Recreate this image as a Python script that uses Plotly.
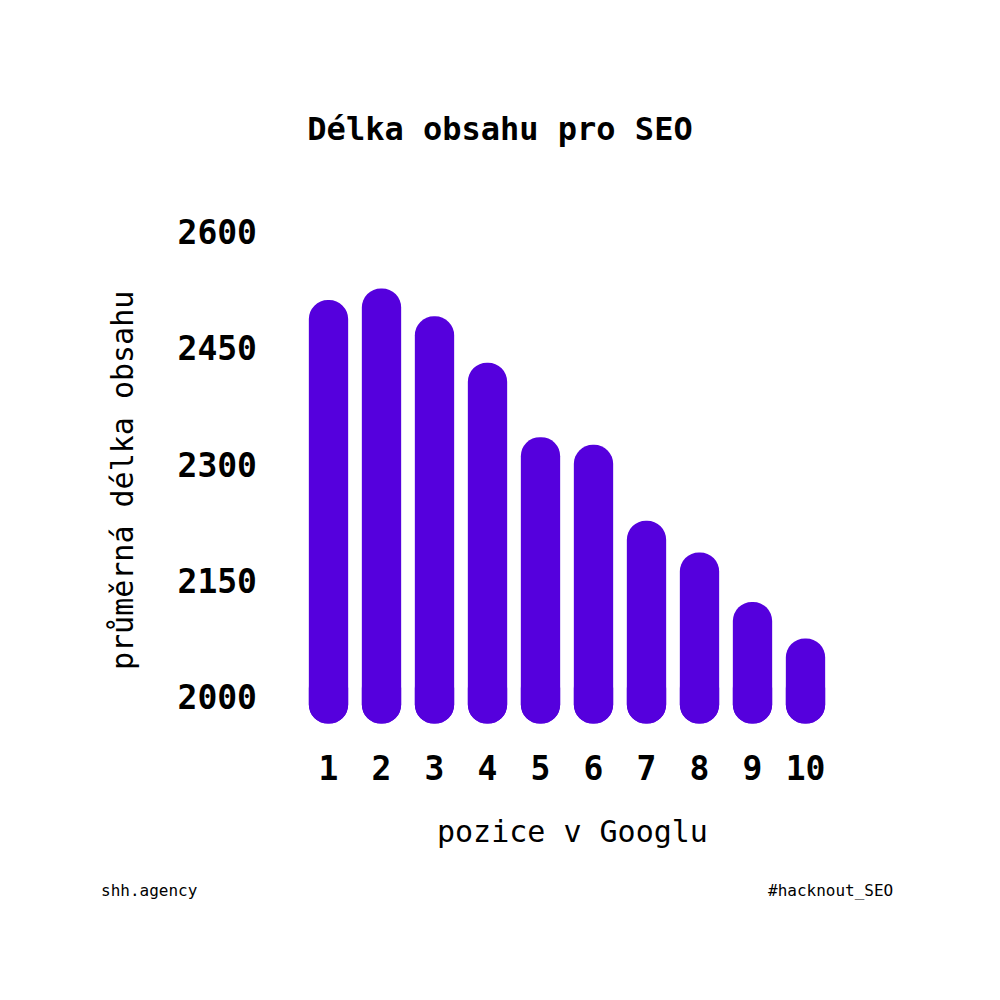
import plotly.graph_objects as go

# ---- data ----
positions = ["1", "2", "3", "4", "5", "6", "7", "8", "9", "10"]
avg_length = [2513, 2528, 2492, 2432, 2336, 2326, 2228, 2187, 2123, 2076]
y_tick_vals = [2000, 2150, 2300, 2450, 2600]
y_tick_text = ["2000", "2150", "2300", "2450", "2600"]

title_text = "Délka obsahu pro SEO"
x_title = "pozice v Googlu"
y_title = "průměrná délka obsahu"
footer_left = "shh.agency"
footer_right = "#hacknout_SEO"

# ---- style ----
BAR_COLOR = "#5500DD"
FONT = "DejaVu Sans Mono"
BAR_FLOOR = 1966      # bottom of the rounded bars
LOWER_H = 70          # height of the piece that carries the rounded bottom

# plot area in pixels
L, R, T, B = 302, 168, 194, 264
PW, PH = 1000 - L - R, 1000 - T - B


def px(xp):
    return (xp - L) / PW


def py(yp):
    return (1000 - B - yp) / PH


fig = go.Figure()
# lower piece: bar drawn downward so its rounded end is at the bottom
fig.add_trace(go.Bar(
    x=positions, y=[-LOWER_H] * len(positions),
    base=[BAR_FLOOR + LOWER_H] * len(positions),
    marker=dict(color=BAR_COLOR, cornerradius="50%", line=dict(width=0)),
    hoverinfo="skip", showlegend=False,
))
# upper piece: bar drawn upward so its rounded end is at the top
fig.add_trace(go.Bar(
    x=positions, y=[v - BAR_FLOOR for v in avg_length],
    base=[BAR_FLOOR] * len(positions),
    marker=dict(color=BAR_COLOR, cornerradius="50%", line=dict(width=0)),
    hoverinfo="skip", showlegend=False,
))

fig.update_layout(
    width=1000, height=1000,
    paper_bgcolor="white", plot_bgcolor="white",
    barmode="overlay", bargap=0.258,
    margin=dict(l=L, r=R, t=T, b=B),
    showlegend=False,
    title=dict(text=f"<b>{title_text}</b>", x=0.5, xanchor="center",
               y=1 - 129 / 1000, yanchor="middle",
               font=dict(family=FONT, size=32, color="black")),
    xaxis=dict(type="category", range=[-0.5, 9.5], showgrid=False, zeroline=False,
               showline=False, ticks="", ticklabelstandoff=10,
               tickfont=dict(family=FONT, size=33, color="black", weight="bold")),
    yaxis=dict(range=[1950, 2650], showgrid=False, zeroline=False, showline=False,
               tickvals=y_tick_vals, ticktext=y_tick_text, ticks="",
               ticklabelstandoff=44,
               tickfont=dict(family=FONT, size=33, color="black", weight="bold")),
    annotations=[
        dict(text=y_title, xref="paper", yref="paper",
             x=px(122), y=py(481), textangle=-90,
             showarrow=False, xanchor="center", yanchor="middle",
             font=dict(family=FONT, size=30, color="black")),
        dict(text=x_title, xref="paper", yref="paper",
             x=px(572), y=py(831),
             showarrow=False, xanchor="center", yanchor="middle",
             font=dict(family=FONT, size=30, color="black")),
        dict(text=footer_left, xref="paper", yref="paper",
             x=px(99), y=py(890),
             showarrow=False, xanchor="left", yanchor="middle",
             font=dict(family=FONT, size=16, color="black")),
        dict(text=footer_right, xref="paper", yref="paper",
             x=px(895), y=py(890),
             showarrow=False, xanchor="right", yanchor="middle",
             font=dict(family=FONT, size=16, color="black")),
    ],
)

fig.write_html("out.html")
